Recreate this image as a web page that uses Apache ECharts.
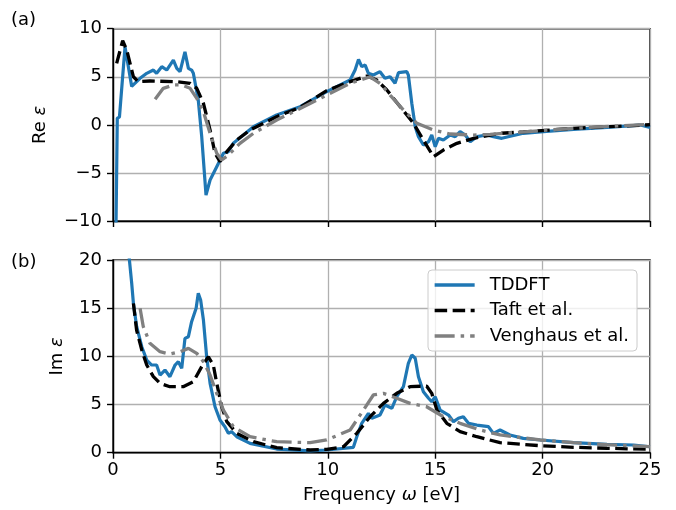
<!DOCTYPE html>
<html>
<head>
<meta charset="utf-8">
<script src="https://cdn.jsdelivr.net/npm/echarts@6/dist/echarts.min.js"></script>
<style>html,body{margin:0;padding:0;background:#fff;}#c{width:676px;height:510px;}</style>
</head>
<body>
<div id="c"></div>
<script>
// ---- Data ----
const xTicks = [0, 5, 10, 15, 20, 25];
const reTicks = [-10, -5, 0, 5, 10];
const imTicks = [0, 5, 10, 15, 20];
const seriesNames = ['TDDFT', 'Taft et al.', 'Venghaus et al.'];

// (a) Re epsilon
const tddftReX = [0.14, 0.2, 0.3, 0.36, 0.56, 0.87, 1.26, 1.57, 1.88, 2.03, 2.27, 2.5, 2.81, 2.97, 3.12, 3.35, 3.51, 3.66, 3.74, 3.97, 4.13, 4.33, 4.52, 4.83, 5.14, 5.37, 5.6, 6.07, 6.54, 7.62, 8.71, 9.95, 11.04, 11.27, 11.43, 11.58, 11.74, 11.89, 12.12, 12.43, 12.66, 12.9, 13.13, 13.29, 13.68, 13.75, 13.91, 14.07, 14.22, 14.45, 14.69, 14.84, 15.0, 15.15, 15.38, 15.7, 15.93, 16.16, 16.4, 16.63, 16.94, 17.4, 17.71, 18.1, 19.1, 20.04, 21.44, 23.0, 24.55, 25.0];
const tddftReY = [-10.5, 0.7, 0.8, 1.0, 8.1, 4.0, 4.84, 5.36, 5.7, 5.36, 6.05, 5.7, 6.74, 5.88, 5.53, 7.6, 5.88, 5.7, 5.36, 2.58, -1.23, -7.3, -5.74, -4.35, -2.96, -2.79, -1.92, -1.06, -0.19, 1.02, 1.89, 3.45, 4.66, 5.7, 6.81, 6.05, 6.22, 5.36, 5.18, 5.53, 4.84, 5.01, 4.32, 5.43, 5.53, 5.18, 2.24, -0.19, -1.23, -2.1, -1.75, -1.06, -2.27, -1.4, -1.58, -1.06, -1.23, -0.71, -1.06, -1.75, -1.23, -1.06, -1.23, -1.4, -0.88, -0.71, -0.47, -0.26, -0.02, -0.26];

const taftReX = [0.17, 0.45, 0.64, 0.95, 1.18, 1.72, 2.97, 3.59, 3.9, 4.21, 4.52, 4.75, 4.98, 5.3, 5.76, 6.38, 7.62, 8.71, 9.95, 11.04, 11.82, 12.28, 12.75, 13.37, 13.99, 14.45, 14.92, 15.38, 16.01, 16.79, 18.02, 19.1, 21.44, 24.55, 25.0];
const taftReY = [6.4, 8.75, 7.78, 5.0, 4.49, 4.56, 4.49, 4.32, 3.8, 2.24, -0.54, -2.96, -3.83, -2.79, -1.58, -0.54, 0.85, 1.82, 3.55, 4.49, 5.08, 4.66, 3.62, 1.89, 0.16, -1.58, -3.31, -2.62, -1.92, -1.4, -0.88, -0.74, -0.36, -0.05, 0.02];

const vengReX = [1.96, 2.34, 2.81, 3.2, 3.59, 3.9, 4.21, 4.52, 4.83, 5.06, 5.37, 5.91, 6.54, 7.62, 8.71, 9.95, 11.04, 11.97, 12.43, 12.9, 13.52, 14.15, 14.92, 15.7, 16.79, 17.56, 19.89, 22.21, 25.0];
const vengReY = [2.66, 3.8, 4.15, 4.15, 3.8, 2.76, 1.37, -0.88, -2.96, -3.66, -3.14, -1.92, -0.88, 0.5, 1.7, 3.1, 4.32, 5.0, 4.32, 3.1, 1.54, 0.16, -0.54, -0.95, -1.06, -0.99, -0.6, -0.26, 0.05];

// (b) Im epsilon
const tddftImX = [0.72, 0.87, 0.95, 1.1, 1.34, 1.57, 1.8, 2.03, 2.19, 2.42, 2.65, 2.89, 3.04, 3.2, 3.35, 3.51, 3.66, 3.87, 3.97, 4.08, 4.21, 4.36, 4.52, 4.75, 4.98, 5.21, 5.37, 5.52, 5.76, 6.38, 7.62, 9.18, 9.95, 11.19, 11.35, 11.58, 11.89, 12.05, 12.43, 12.66, 12.98, 13.21, 13.52, 13.75, 13.91, 14.07, 14.22, 14.45, 14.69, 14.84, 15.0, 15.23, 15.62, 15.85, 16.08, 16.31, 16.55, 16.94, 17.48, 17.71, 18.02, 18.48, 19.1, 19.89, 21.44, 23.0, 24.24, 25.0];
const tddftImY = [21, 17.6, 15.5, 13.1, 11.0, 9.62, 9.1, 9.1, 8.06, 8.58, 7.89, 9.1, 9.44, 8.76, 11.87, 12.04, 13.6, 14.99, 16.54, 15.85, 13.77, 9.96, 7.2, 4.77, 3.39, 2.7, 2.01, 2.18, 1.66, 0.97, 0.38, 0.18, 0.28, 0.56, 1.66, 3.05, 4.09, 3.57, 3.91, 4.95, 4.61, 5.81, 6.85, 9.28, 10.14, 9.8, 7.89, 6.33, 5.65, 5.29, 5.81, 4.43, 3.91, 3.22, 3.57, 3.74, 3.05, 2.87, 2.7, 2.01, 2.36, 1.84, 1.49, 1.32, 1.04, 0.87, 0.8, 0.62];

const taftImX = [0.95, 1.1, 1.34, 1.57, 1.88, 2.19, 2.65, 3.27, 3.74, 4.13, 4.44, 4.67, 4.83, 5.06, 5.3, 5.76, 6.54, 7.62, 9.18, 9.95, 10.73, 11.35, 11.97, 12.59, 13.21, 13.83, 14.6, 14.84, 15.08, 15.54, 16.16, 16.94, 18.02, 19.89, 21.44, 23.0, 25.0];
const taftImY = [15.5, 12.7, 10.66, 9.1, 7.89, 7.2, 6.85, 6.85, 7.37, 8.93, 9.96, 9.1, 7.2, 4.77, 3.22, 2.01, 1.14, 0.52, 0.28, 0.35, 0.62, 2.01, 3.74, 5.12, 6.16, 6.85, 6.92, 6.16, 4.43, 3.05, 2.18, 1.66, 1.04, 0.73, 0.56, 0.46, 0.35];

const vengImX = [1.26, 1.41, 1.72, 2.19, 2.65, 3.12, 3.51, 3.9, 4.21, 4.52, 4.83, 5.14, 5.6, 6.38, 7.62, 9.18, 9.95, 11.04, 11.66, 12.12, 12.59, 13.21, 13.83, 14.6, 15.38, 16.16, 17.09, 18.02, 19.89, 21.44, 23.0, 25.0];
const vengImY = [14.99, 13.08, 11.35, 10.48, 10.24, 10.48, 10.83, 10.31, 9.44, 8.06, 6.16, 4.43, 2.7, 1.66, 1.14, 1.04, 1.32, 2.36, 4.43, 5.99, 6.16, 5.65, 5.12, 4.77, 3.74, 3.05, 2.36, 1.84, 1.32, 1.04, 0.83, 0.62];

// ---- Chart ----
const FONT = 'DejaVu Sans';
const FS = 18;
const pairs = (xs, ys) => xs.map((x, i) => [x, ys[i]]);
const minus = v => String(v).replace('-', '\u2212');

const styles = [
  { color: '#1f77b4', width: 3.2, type: 'solid' },
  { color: '#000000', width: 3.3, type: [12.5, 5.5] },
  { color: '#808080', width: 3.3, type: [20, 6, 3.5, 6] }
];

function mkX(gi, showLabels) {
  return {
    type: 'value', gridIndex: gi, min: xTicks[0], max: xTicks[xTicks.length - 1], interval: 5,
    axisLine: { show: true, onZero: false, lineStyle: { color: '#000', width: 1.4 } },
    axisTick: { show: true, inside: false, length: 6, lineStyle: { color: '#000', width: 1.4 } },
    axisLabel: { show: showLabels, color: '#000', fontFamily: FONT, fontSize: FS, margin: 9 },
    splitLine: { show: true, lineStyle: { color: '#b0b0b0', width: 1.3 } },
    name: showLabels ? '{n|Frequency }{i|ω}{n| [eV]}' : '',
    nameLocation: 'middle', nameGap: 34,
    nameTextStyle: { color: '#000', fontFamily: FONT, fontSize: FS,
      rich: { n: { fontFamily: FONT, fontSize: FS, color: '#000' },
              i: { fontFamily: FONT, fontSize: FS, fontStyle: 'italic', color: '#000' } } }
  };
}
function mkY(gi, ticks, name, gap) {
  return {
    type: 'value', gridIndex: gi, min: ticks[0], max: ticks[ticks.length - 1], interval: 5,
    axisLine: { show: true, onZero: false, lineStyle: { color: '#000', width: 1.4 } },
    axisTick: { show: true, inside: false, length: 6, lineStyle: { color: '#000', width: 1.4 } },
    axisLabel: { color: '#000', fontFamily: FONT, fontSize: FS, margin: 11, formatter: minus },
    splitLine: { show: true, lineStyle: { color: '#b0b0b0', width: 1.3 } },
    name: '{n|' + name + ' }{i|ε}', nameLocation: 'middle', nameRotate: 90, nameGap: gap,
    nameTextStyle: { color: '#000', fontFamily: FONT, fontSize: FS,
      rich: { n: { fontFamily: FONT, fontSize: FS, color: '#000' },
              i: { fontFamily: FONT, fontSize: FS, fontStyle: 'italic', color: '#000' } } }
  };
}
function mkS(idx, xi, xs, ys) {
  return {
    name: seriesNames[idx], type: 'line', xAxisIndex: xi, yAxisIndex: xi,
    data: pairs(xs, ys), showSymbol: false, symbol: 'none', clip: true,
    lineStyle: styles[idx], itemStyle: { color: styles[idx].color }, z: 2 + idx
  };
}

const chart = echarts.init(document.getElementById('c'), null, { renderer: 'canvas' });
chart.setOption({
  animation: false,
  backgroundColor: '#fff',
  grid: [
    { left: 113, top: 28.7, width: 537, height: 192.3, show: true, borderColor: '#000', borderWidth: 1.4, backgroundColor: 'transparent' },
    { left: 113, top: 260, width: 537, height: 192.7, show: true, borderColor: '#000', borderWidth: 1.4, backgroundColor: 'transparent' }
  ],
  xAxis: [mkX(0, false), mkX(1, true)],
  yAxis: [mkY(0, reTicks, 'Re', 64), mkY(1, imTicks, 'Im', 47)],
  legend: {
    data: seriesNames, orient: 'vertical', left: 428, top: 270,
    itemWidth: 40, itemHeight: 20, itemGap: 7.5,
    padding: [6, 8, 6, 5],
    itemStyle: { opacity: 0, borderWidth: 0 },
    lineStyle: { width: 3.3 },
    backgroundColor: 'rgba(255,255,255,0.8)', borderColor: '#cccccc', borderWidth: 1, borderRadius: 4,
    textStyle: { color: '#000', fontFamily: FONT, fontSize: FS, padding: [0, 0, 0, 10] }
  },
  graphic: [
    { type: 'text', left: 11, top: 11, style: { text: '(a)', font: FS + 'px "' + FONT + '"', fill: '#000' } },
    { type: 'text', left: 11, top: 253, style: { text: '(b)', font: FS + 'px "' + FONT + '"', fill: '#000' } }
  ],
  series: [
    mkS(0, 0, tddftReX, tddftReY),
    mkS(1, 0, taftReX, taftReY),
    mkS(2, 0, vengReX, vengReY),
    mkS(0, 1, tddftImX, tddftImY),
    mkS(1, 1, taftImX, taftImY),
    mkS(2, 1, vengImX, vengImY)
  ]
});
</script>
</body>
</html>
